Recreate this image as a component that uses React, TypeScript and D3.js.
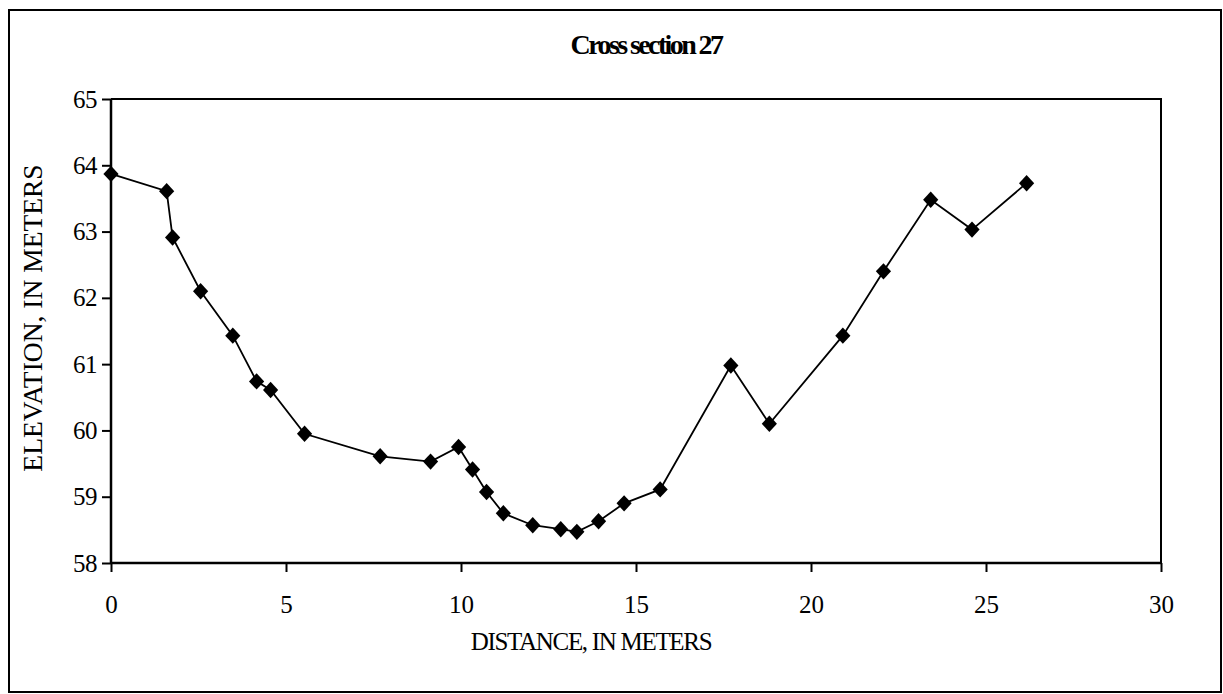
import React, { useEffect, useRef } from "react";
import * as d3 from "d3";

const distance = [0, 1.59, 1.76, 2.56, 3.48, 4.16, 4.56, 5.53, 7.69, 9.13, 9.93, 10.33, 10.73, 11.21, 12.05, 12.85, 13.31, 13.93, 14.66, 15.69, 17.71, 18.81, 20.91, 22.07, 23.42, 24.6, 26.16];
const elevation = [63.87, 63.61, 62.91, 62.1, 61.43, 60.74, 60.61, 59.95, 59.61, 59.53, 59.75, 59.41, 59.07, 58.75, 58.57, 58.51, 58.47, 58.63, 58.9, 59.11, 60.98, 60.1, 61.43, 62.4, 63.48, 63.03, 63.73];
const xTicks = [0, 5, 10, 15, 20, 25, 30];
const yTicks = [58, 59, 60, 61, 62, 63, 64, 65];
const title = "Cross section 27";
const xTitle = "DISTANCE, IN METERS";
const yTitle = "ELEVATION, IN METERS";

const W = 1223;
const H = 694;
const FONT = "'Liberation Serif', 'Times New Roman', serif";

export default function App() {
  const ref = useRef<SVGSVGElement>(null);

  useEffect(() => {
    const svg = d3.select(ref.current);
    svg.selectAll("*").remove();

    const left = 111, right = 1161, top = 99, bottom = 563;
    const x = d3.scaleLinear().domain([0, 30]).range([left, right]);
    const y = d3.scaleLinear().domain([58, 65]).range([bottom, top]);

    svg.append("rect").attr("x", 0).attr("y", 0).attr("width", W).attr("height", H).attr("fill", "#fff");
    // outer chart border
    svg.append("rect").attr("x", 9).attr("y", 10).attr("width", 1212).attr("height", 682)
      .attr("fill", "none").attr("stroke", "#000").attr("stroke-width", 2);

    // plot frame (top & right)
    svg.append("path")
      .attr("d", `M${left},${top}H${right}V${bottom}`)
      .attr("fill", "none").attr("stroke", "#000").attr("stroke-width", 2);

    // x axis
    const xAxis = svg.append("g").attr("transform", `translate(0,${bottom})`)
      .call(d3.axisBottom(x).tickValues(xTicks).tickSize(9).tickPadding(23).tickFormat(d3.format("d")));
    xAxis.select(".domain").attr("stroke-width", 2.5).attr("d", `M${left},0H${right}`);
    xAxis.selectAll(".tick line").attr("stroke-width", 2);
    xAxis.selectAll(".tick text").attr("font-family", FONT).attr("font-size", 25).attr("fill", "#000");

    // y axis
    const yAxis = svg.append("g").attr("transform", `translate(${left},0)`)
      .call(d3.axisLeft(y).tickValues(yTicks).tickSize(9).tickPadding(5).tickFormat(d3.format("d")));
    yAxis.select(".domain").attr("stroke-width", 2.5).attr("d", `M0,${top}V${bottom}`);
    yAxis.selectAll(".tick line").attr("stroke-width", 2);
    yAxis.selectAll(".tick text").attr("font-family", FONT).attr("font-size", 25).attr("fill", "#000").attr("letter-spacing", -0.5);

    const data = distance.map((d, i) => ({ x: d, y: elevation[i] }));
    const line = d3.line<{ x: number; y: number }>().x(d => x(d.x)).y(d => y(d.y));
    svg.append("path").datum(data).attr("d", line).attr("fill", "none").attr("stroke", "#000").attr("stroke-width", 1.8);

    const diamond = "M0,-8.2L7.6,0L0,8.2L-7.6,0Z";
    svg.append("g").selectAll("path").data(data).join("path")
      .attr("transform", d => `translate(${x(d.x)},${y(d.y)})`)
      .attr("d", diamond)
      .attr("fill", "#000");

    svg.append("text").attr("x", 646).attr("y", 54).attr("text-anchor", "middle")
      .attr("font-family", FONT).attr("font-size", 28).attr("font-weight", "bold")
      .attr("letter-spacing", -2.6).text(title);

    svg.append("text").attr("x", 591).attr("y", 650).attr("text-anchor", "middle")
      .attr("font-family", FONT).attr("font-size", 25).attr("letter-spacing", -1.3).text(xTitle);

    svg.append("text").attr("transform", `translate(42,318) rotate(-90)`).attr("text-anchor", "middle")
      .attr("font-family", FONT).attr("font-size", 27.5).text(yTitle);
  }, []);

  return (
    <svg ref={ref} width={W} height={H} style={{ position: "absolute", left: 0, top: 0, background: "#fff" }} />
  );
}
